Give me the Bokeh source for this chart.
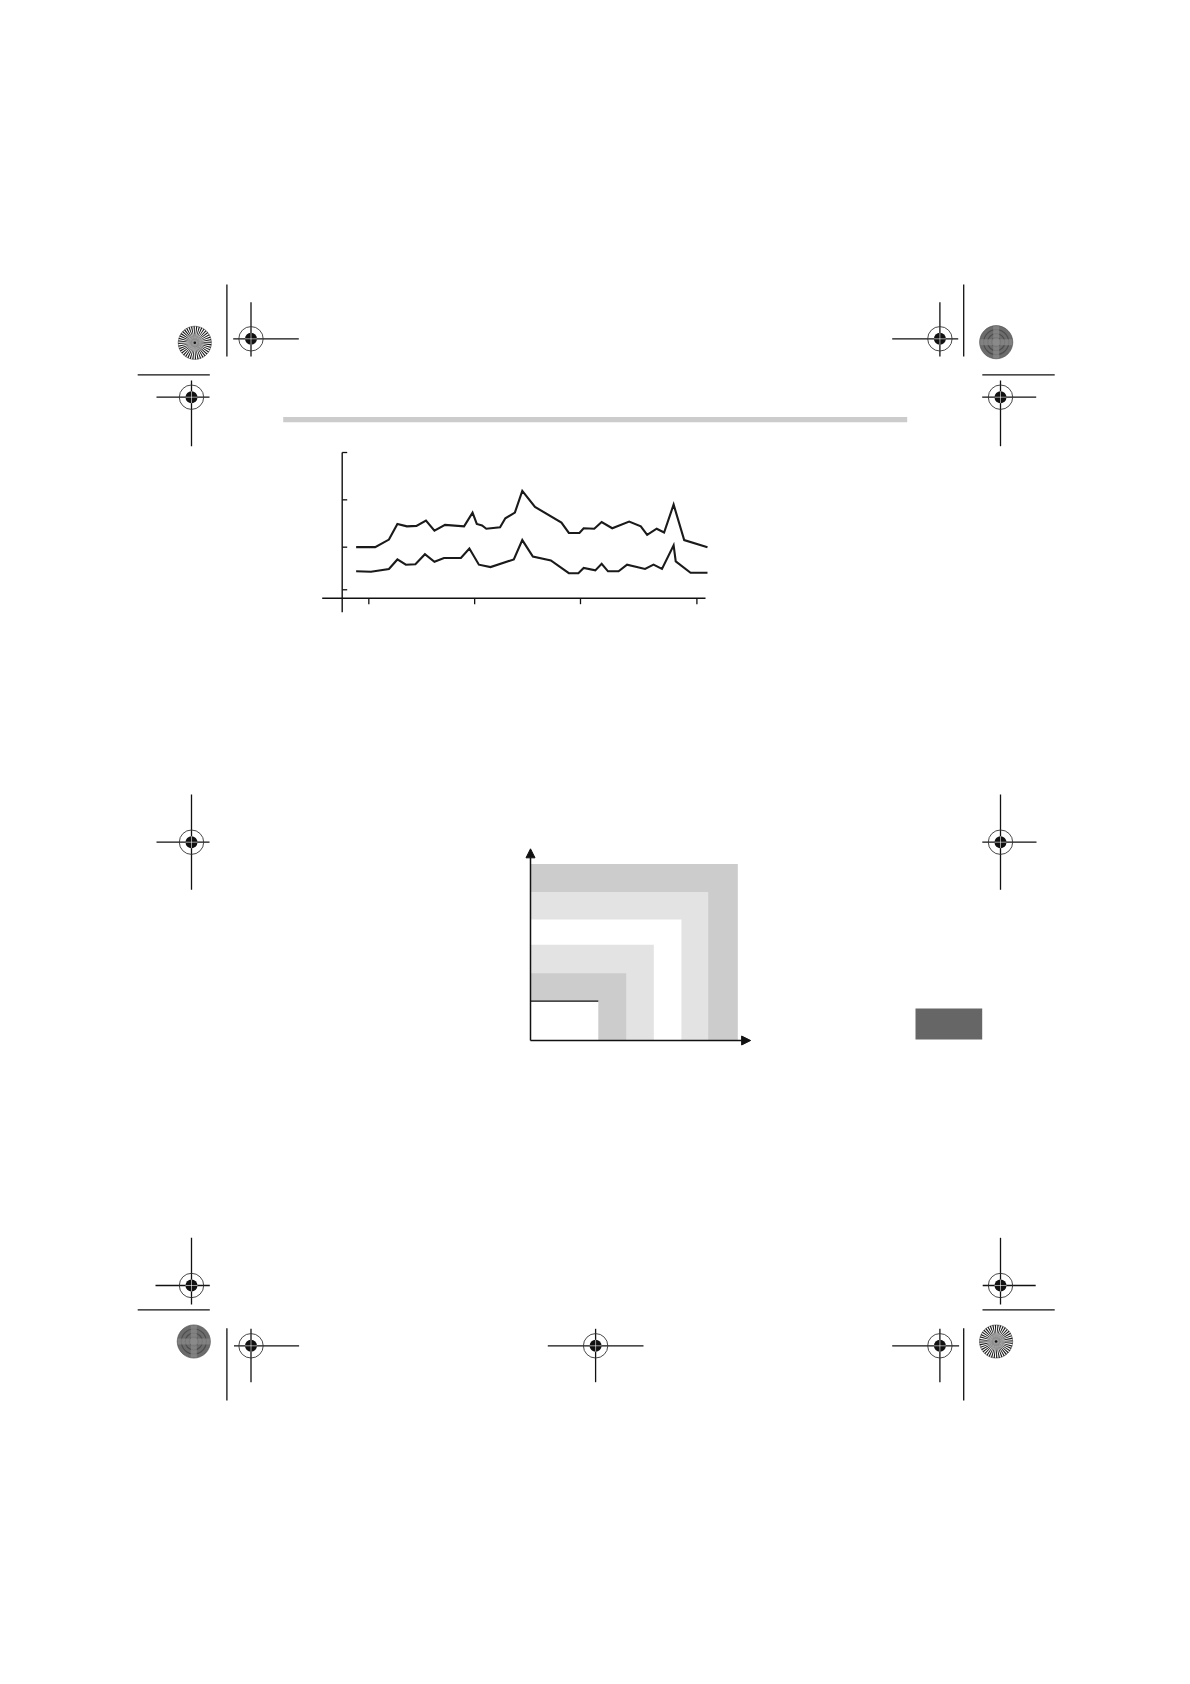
import numpy as np
from bokeh.plotting import figure
from bokeh.models import Range1d, Arrow, NormalHead
from bokeh.embed import file_html
from bokeh.resources import INLINE

# ---------------- data: line chart (two series) ----------------
upper_year = [1968.8, 1970.6, 1971.9, 1972.7, 1973.6, 1974.5, 1975.4, 1976.2, 1977.2, 1979.0,
              1979.8, 1980.2, 1980.7, 1981.1, 1982.4, 1982.9, 1983.8, 1984.5, 1985.7, 1988.2,
              1988.9, 1989.9, 1990.3, 1991.3, 1992.0, 1993.0, 1994.6, 1995.7, 1996.3, 1997.2,
              1997.9, 1998.8, 1999.8, 2002.0]
upper_val = [1.00, 1.00, 1.16, 1.49, 1.44, 1.45, 1.56, 1.35, 1.47, 1.44,
             1.73, 1.49, 1.46, 1.39, 1.42, 1.61, 1.73, 2.19, 1.85, 1.52,
             1.30, 1.30, 1.40, 1.39, 1.53, 1.40, 1.54, 1.44, 1.26, 1.39,
             1.31, 1.90, 1.15, 1.00]
lower_year = [1968.8, 1970.2, 1971.9, 1972.7, 1973.5, 1974.4, 1975.3, 1976.2, 1977.1, 1978.7,
              1979.5, 1980.4, 1981.5, 1983.7, 1984.5, 1985.5, 1987.2, 1988.9, 1989.8, 1990.3,
              1991.4, 1992.0, 1992.6, 1993.6, 1994.4, 1996.1, 1996.9, 1997.7, 1998.8, 1999.0,
              2000.4, 2002.0]
lower_val = [0.49, 0.48, 0.54, 0.74, 0.63, 0.64, 0.85, 0.69, 0.77, 0.77,
             0.97, 0.63, 0.58, 0.74, 1.15, 0.80, 0.72, 0.45, 0.45, 0.56,
             0.51, 0.65, 0.49, 0.49, 0.63, 0.54, 0.63, 0.54, 1.04, 0.70,
             0.46, 0.46]
x_ticks = [1970, 1980, 1990, 2001]
y_ticks = [0.1, 1, 2, 3]

# ---------------- data: nested L-band chart ----------------
band_width = [7.43, 6.37, 5.41, 4.42, 3.43, 2.43]
band_height = [6.33, 5.32, 4.34, 3.43, 2.41, 1.41]
band_color = ["#cccccc", "#e3e3e3", "#ffffff", "#e3e3e3", "#cccccc", "#ffffff"]
nc_axis_x_end = 7.89
nc_axis_y_end = 6.87

# ---------------- page (print sheet) ----------------
W, H = 1174, 1660
OX, OY = 0, 0   # window position of the figure frame
p = figure(width=W, height=H, output_backend="svg", toolbar_location=None,
           x_range=Range1d(OX, OX + W), y_range=Range1d(OY + H, OY),
           min_border=0, x_axis_type=None, y_axis_type=None)
p.grid.visible = False
p.outline_line_color = None
p.background_fill_color = "white"
p.border_fill_color = "white"

INK = "#111111"

# header rule
p.quad(left=[282.7], right=[906.7], top=[416.5], bottom=[421.7],
       fill_color="#cccccc", line_color=None)
# side tab
p.quad(left=[915], right=[981.7], top=[1008], bottom=[1039],
       fill_color="#666666", line_color=None)

# crop lines
crop_x0 = [226.4, 963.2, 226.4, 963.2, 137.2, 981.8, 137.2, 982.0]
crop_x1 = [226.4, 963.2, 226.4, 963.2, 209.3, 1054.2, 209.3, 1054.2]
crop_y0 = [284.0, 284.0, 1327.7, 1327.7, 374.3, 374.3, 1309.3, 1309.3]
crop_y1 = [356.0, 356.0, 1400.0, 1400.0, 374.3, 374.3, 1309.3, 1309.3]
p.segment(crop_x0, crop_y0, crop_x1, crop_y1, line_color=INK, line_width=1.3)

# registration marks
reg_x = [250.5, 191.0, 939.4, 1000.0, 191.0, 1000.0, 191.0, 250.5, 595.1, 939.4, 1000.0]
reg_y = [338.3, 396.7, 338.3, 396.7, 841.7, 841.7, 1285.0, 1345.3, 1345.3, 1345.3, 1285.0]
reg_h0 = [232.7, 156.0, 891.7, 981.7, 156.0, 981.8, 155.0, 233.5, 547.3, 891.7, 982.2]
reg_h1 = [298.3, 209.0, 957.7, 1035.7, 209.0, 1036.0, 209.3, 298.6, 643.0, 958.6, 1035.2]
reg_v0 = [301.7, 380.0, 301.7, 380.0, 794.0, 794.0, 1237.3, 1328.3, 1328.3, 1328.3, 1237.3]
reg_v1 = [356.0, 445.7, 356.0, 445.7, 889.3, 889.3, 1304.0, 1381.7, 1381.7, 1381.7, 1304.0]
p.segment(reg_h0, reg_y, reg_h1, reg_y, line_color=INK, line_width=1.3)
p.segment(reg_x, reg_v0, reg_x, reg_v1, line_color=INK, line_width=1.3)
p.circle(reg_x, reg_y, radius=12.2, fill_color=None, line_color="#333333", line_width=0.9)
p.circle(reg_x, reg_y, radius=6.0, fill_color=INK, line_color=None)
rx = np.array(reg_x); ry = np.array(reg_y)
p.segment(rx - 6.0, ry, rx + 6.0, ry, line_color="white", line_width=0.6)
p.segment(rx, ry - 6.0, rx, ry + 6.0, line_color="white", line_width=0.6)

# colour-bar wheels
R = 16.6
radial_x = [194.3, 995.6]
radial_y = [342.3, 1341.0]
dark_x = [995.7, 193.3]
dark_y = [341.7, 1341.0]
n = 40
for cx, cy in zip(radial_x, radial_y):
    p.circle([cx], [cy], radius=R, fill_color="white", line_color="#555555", line_width=0.6)
    starts = [2 * np.pi * i / n for i in range(n)]
    ends = [s + np.pi / n for s in starts]
    p.annular_wedge([cx] * n, [cy] * n, inner_radius=3, outer_radius=R,
                    start_angle=starts, end_angle=ends,
                    fill_color="#1a1a1a", line_color=None)
    p.circle([cx], [cy], radius=9, fill_color="#a0a0a0", fill_alpha=0.6, line_color=None)
    p.circle([cx], [cy], radius=4.5, fill_color="#888888", fill_alpha=0.7, line_color=None)
    p.circle([cx], [cy], radius=1.3, fill_color=INK, line_color=None)
for cx, cy in zip(dark_x, dark_y):
    p.circle([cx], [cy], radius=R, fill_color="#6c6c6c", line_color="#4a4a4a", line_width=0.6)
    for rr in [4.5, 8.5, 12.5]:
        p.circle([cx], [cy], radius=rr, fill_color=None, line_color="#4d4d4d", line_width=1.2)
    p.rect([cx], [cy], width=6, height=2 * R - 1.2, fill_color="#8f8f8f", fill_alpha=0.65, line_color=None)
    p.rect([cx], [cy], width=2 * R - 1.2, height=6, fill_color="#8f8f8f", fill_alpha=0.65, line_color=None)

# ---------------- line chart: scales placed on the page ----------------
LC_PX0, LC_PX_PER_YEAR = 368.33, 10.583   # page x of 1970, px per year
LC_PY1, LC_PX_PER_UNIT = 546.67, 47.33    # page y of value 1, px per unit


def yr_at(px):
    return 1970 + (px - LC_PX0) / LC_PX_PER_YEAR


def v_at(py):
    return 1 + (LC_PY1 - py) / LC_PX_PER_UNIT


p.extra_x_ranges["lc_x"] = Range1d(yr_at(OX), yr_at(OX + W))
p.extra_y_ranges["lc_y"] = Range1d(v_at(OY + H), v_at(OY))
LC = dict(x_range_name="lc_x", y_range_name="lc_y")

ax_year = yr_at(341.7)
ax_v = v_at(597.7)
# y axis line and ticks
p.segment([ax_year], [v_at(611.7)], [ax_year], [max(y_ticks)], line_color=INK, line_width=1.4, **LC)
p.segment([ax_year] * len(y_ticks), y_ticks, [ax_year + 5 / LC_PX_PER_YEAR] * len(y_ticks), y_ticks,
          line_color=INK, line_width=1.3, **LC)
# x axis line and ticks
p.segment([yr_at(321.7)], [ax_v], [yr_at(705)], [ax_v], line_color=INK, line_width=1.4, **LC)
p.segment(x_ticks, [ax_v] * len(x_ticks), x_ticks, [ax_v - 6 / LC_PX_PER_UNIT] * len(x_ticks),
          line_color=INK, line_width=1.3, **LC)
# series
p.line(upper_year, upper_val, line_color="#1a1a1a", line_width=2.1, line_join="miter", **LC)
p.line(lower_year, lower_val, line_color="#1a1a1a", line_width=2.1, line_join="miter", **LC)

# ---------------- nested L-band chart ----------------
NC_OX, NC_OY, NC_UNIT = 530.0, 1040.0, 27.9
p.extra_x_ranges["nc_x"] = Range1d((OX - NC_OX) / NC_UNIT, (OX + W - NC_OX) / NC_UNIT)
p.extra_y_ranges["nc_y"] = Range1d((NC_OY - (OY + H)) / NC_UNIT, (NC_OY - OY) / NC_UNIT)
NC = dict(x_range_name="nc_x", y_range_name="nc_y")

p.quad(left=[0] * len(band_width), right=band_width, bottom=[0] * len(band_height), top=band_height,
       fill_color=band_color, line_color=None, **NC)
p.segment([0], [band_height[-1]], [band_width[-1]], [band_height[-1]], line_color=INK, line_width=1.2, **NC)

p.add_layout(Arrow(end=NormalHead(size=9, fill_color=INK, line_color=INK, line_width=1),
                   x_start=0, y_start=0, x_end=0, y_end=nc_axis_y_end,
                   line_color=INK, line_width=1.5, **NC))
p.add_layout(Arrow(end=NormalHead(size=9, fill_color=INK, line_color=INK, line_width=1),
                   x_start=0, y_start=0, x_end=nc_axis_x_end, y_end=0,
                   line_color=INK, line_width=1.5, **NC))

open("out.html", "w").write(file_html(p, INLINE))
